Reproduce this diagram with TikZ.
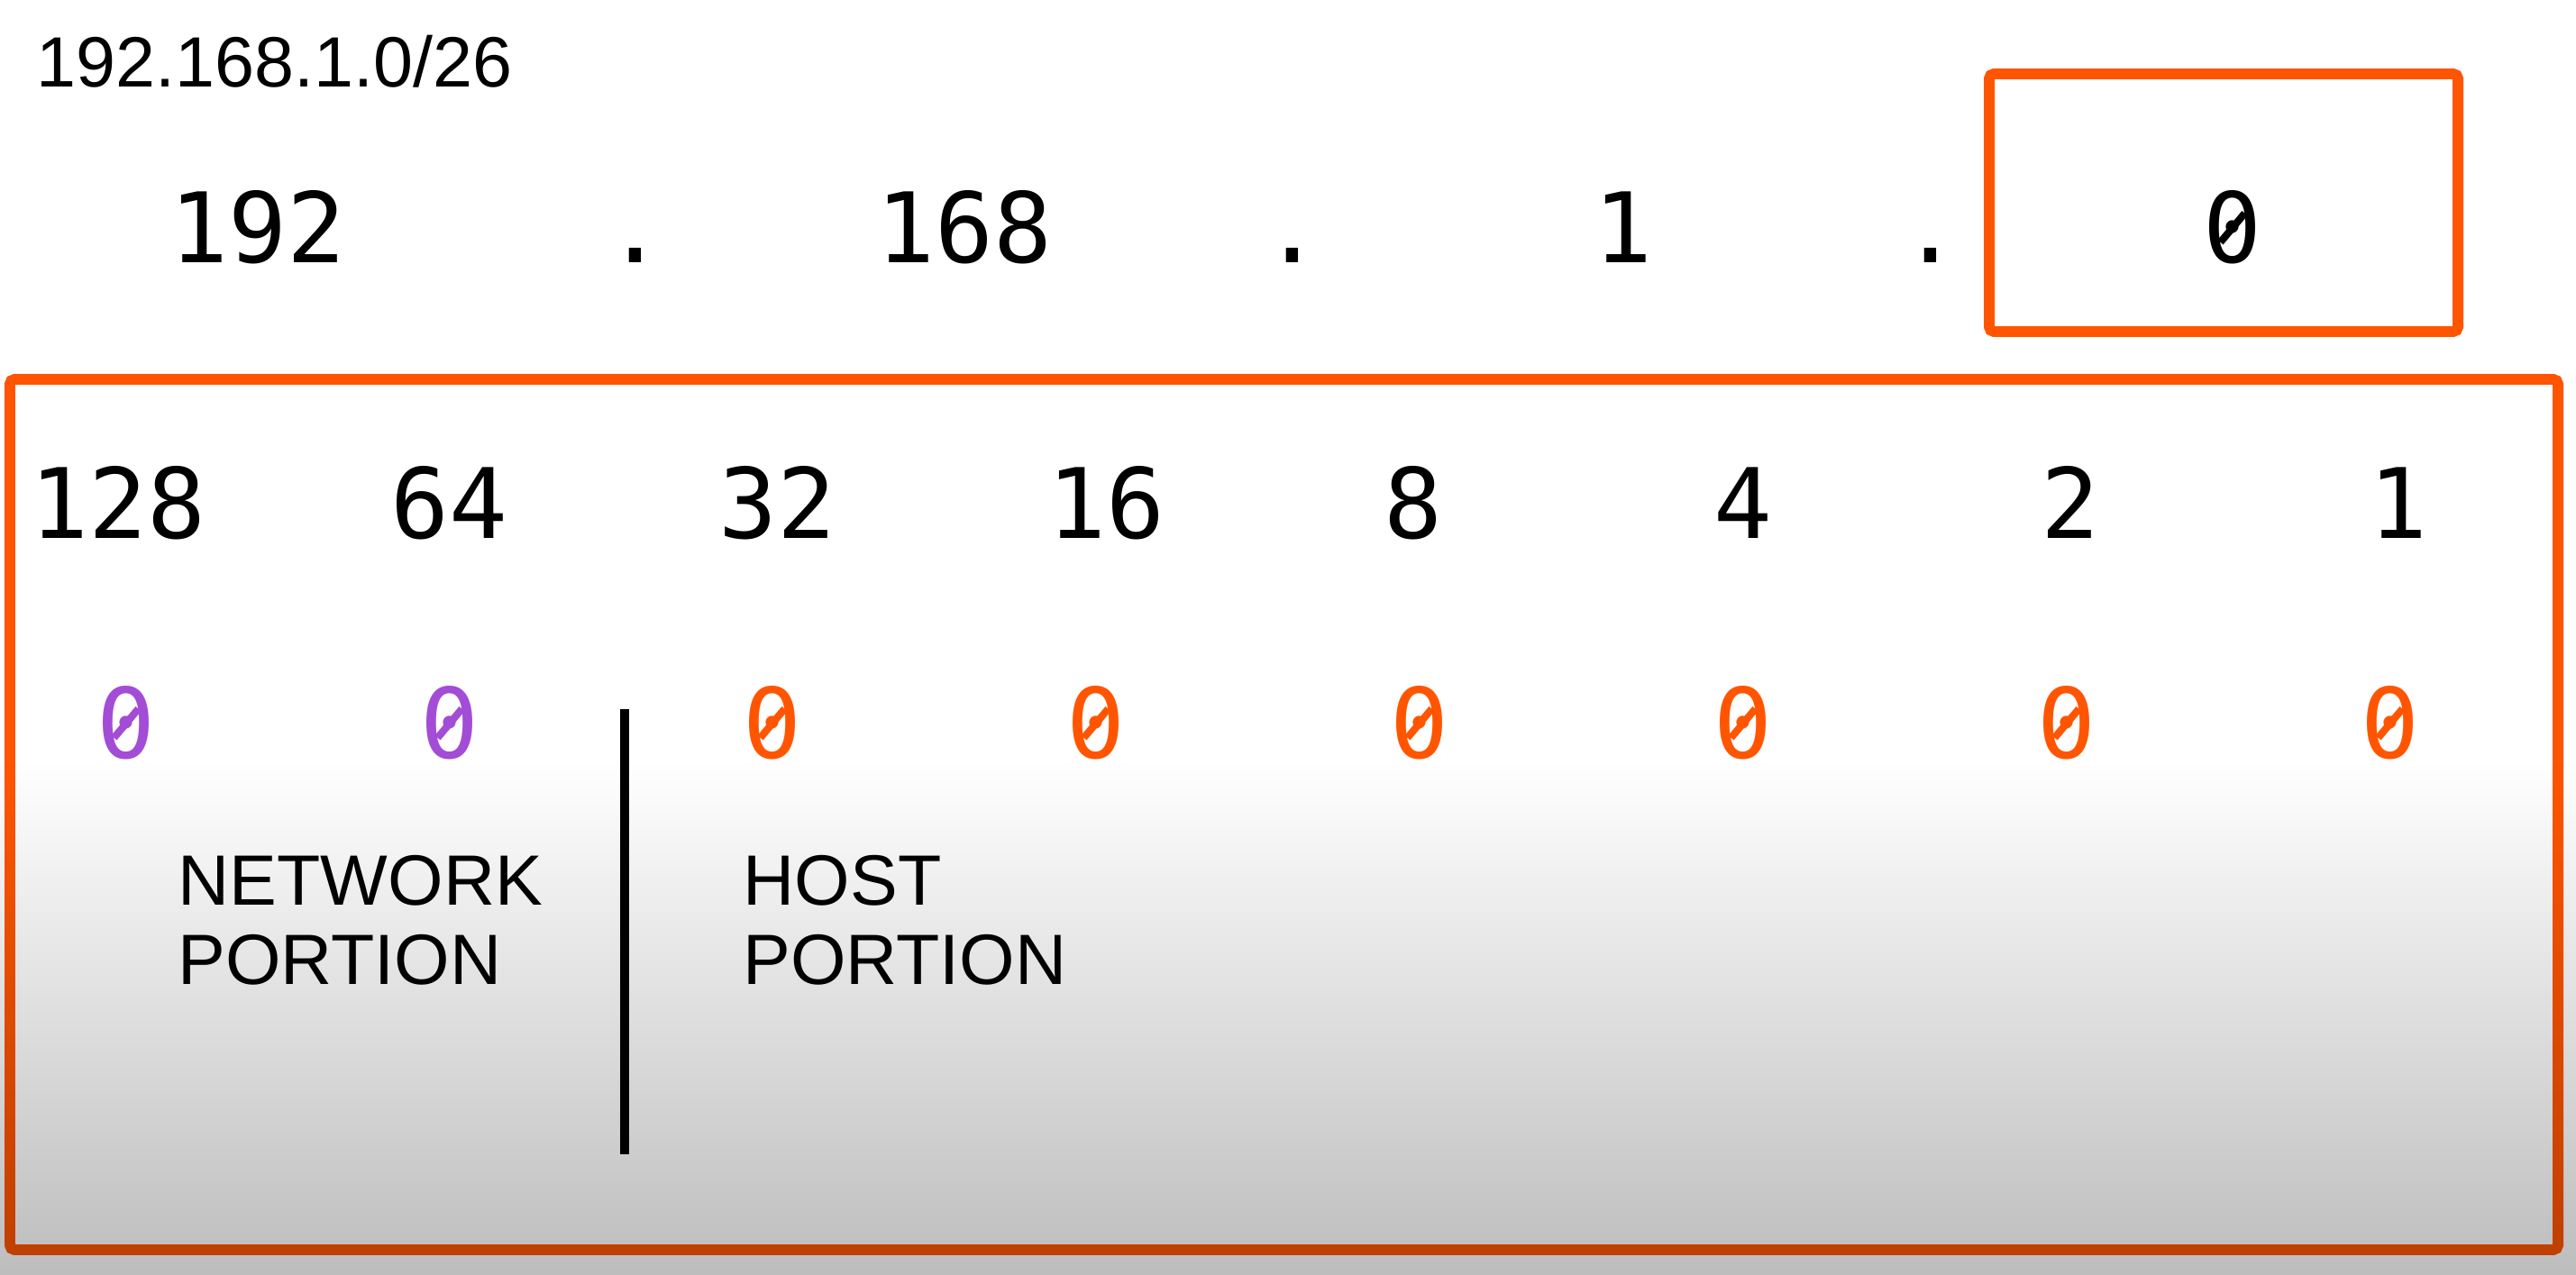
\documentclass[tikz,border=0pt]{standalone}
\usepackage{fontspec}
\setmainfont{Liberation Sans}
\setmonofont{DejaVu Sans Mono}
\usepackage{tikz}
\usetikzlibrary{positioning}
\definecolor{iporange}{RGB}{255,85,0}
\definecolor{netpurple}{RGB}{163,76,214}
\definecolor{fadegray}{RGB}{189,189,189}
\newcommand{\numfont}{\ttfamily\fontsize{30.7pt}{34pt}\selectfont}
\newcommand{\lblfont}{\fontsize{22.5pt}{25pt}\selectfont}

\begin{document}
\begin{tikzpicture}[every node/.style={inner sep=0pt},
  num/.style={font=\numfont, anchor=base},
  lbl/.style={font=\lblfont, anchor=base west, align=left},
  bx/.style={draw=iporange, line width=3.4pt, rounded corners=1.5pt},
  zs/.style={line width=2.3pt}]
\useasboundingbox (0,0) rectangle (28.58,14.14);
% Title
\node[lbl] (title) at (0.40,13.17) {192.168.1.0/26};
% Address
\node[num] (oct1) at (2.86,11.22) {192};
\node[num] (dot1) at (7.05,11.22) {.};
\node[num] (oct2) at (10.70,11.22) {168};
\node[num] (dot2) at (14.34,11.22) {.};
\node[num] (oct3) at (18.01,11.22) {1};
\node[num] (dot3) at (21.42,11.22) {.};
\node[num] (oct4) at (24.77,11.22) {0};
\draw[bx] (22.07,13.32) rectangle (27.27,10.46);
% Bit values
\draw[bx] (0.11,9.93) rectangle (28.38,0.27);
\node[num] (w128) at (1.31,8.16) {128};
\node[num] (w64) at (4.98,8.16) {64};
\node[num] (w32) at (8.62,8.16) {32};
\node[num] (w16) at (12.27,8.16) {16};
\node[num] (w8) at (15.68,8.16) {8};
\node[num] (w4) at (19.34,8.16) {4};
\node[num] (w2) at (22.97,8.16) {2};
\node[num] (w1) at (26.61,8.16) {1};
% Bits
\node[num, netpurple] (b7) at (1.40,5.72) {0};
\node[num, netpurple] (b6) at (4.99,5.72) {0};
\node[num, iporange] (b5) at (8.57,5.72) {0};
\node[num, iporange] (b4) at (12.16,5.72) {0};
\node[num, iporange] (b3) at (15.75,5.72) {0};
\node[num, iporange] (b2) at (19.34,5.72) {0};
\node[num, iporange] (b1) at (22.93,5.72) {0};
\node[num, iporange] (b0) at (26.52,5.72) {0};
% Slashed zeros
\draw[zs] (oct4.center) ++(230:0.21) -- ++(50:0.42);
\draw[zs, netpurple] (b7.center) ++(230:0.21) -- ++(50:0.42);
\draw[zs, netpurple] (b6.center) ++(230:0.21) -- ++(50:0.42);
\draw[zs, iporange] (b5.center) ++(230:0.21) -- ++(50:0.42);
\draw[zs, iporange] (b4.center) ++(230:0.21) -- ++(50:0.42);
\draw[zs, iporange] (b3.center) ++(230:0.21) -- ++(50:0.42);
\draw[zs, iporange] (b2.center) ++(230:0.21) -- ++(50:0.42);
\draw[zs, iporange] (b1.center) ++(230:0.21) -- ++(50:0.42);
\draw[zs, iporange] (b0.center) ++(230:0.21) -- ++(50:0.42);
% Split
\coordinate (divtop) at (6.93,6.27);
\coordinate (divbot) at (6.93,1.33);
\draw[line width=3pt] (divtop) -- (divbot);
\node[lbl] (net) at (1.97,3.22) {NETWORK\\PORTION};
\node[lbl] (host) at (8.24,3.22) {HOST\\PORTION};
% Fade
\begin{scope}[blend mode=multiply]
\shade[top color=white, bottom color=fadegray] (0,5.70) rectangle (28.58,0);
\end{scope}
\end{tikzpicture}
\end{document}
